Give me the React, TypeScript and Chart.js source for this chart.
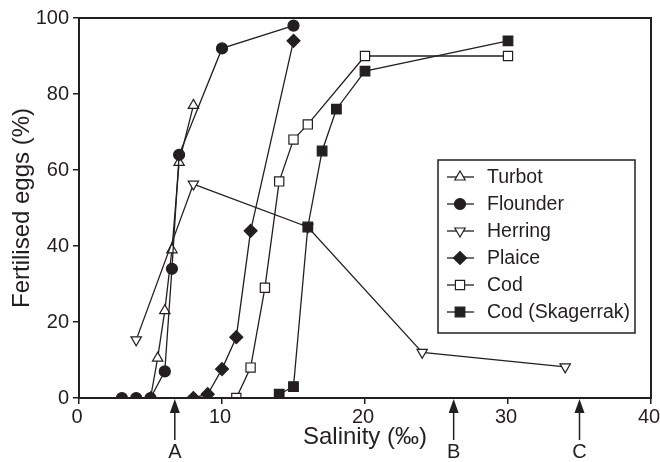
import React, { useEffect, useRef } from 'react';
import { Chart, registerables } from 'chart.js';

Chart.register(...registerables);

// ---- data ----
const seriesNames = ['Turbot', 'Flounder', 'Herring', 'Plaice', 'Cod', 'Cod (Skagerrak)'];
const turbotSalinity = [5, 5.5, 6, 6.5, 7, 8];
const turbotEggs = [0, 10.5, 23, 39, 62, 77];
const flounderSalinity = [3, 4, 5, 6, 6.5, 7, 10, 15];
const flounderEggs = [0, 0, 0, 7, 34, 64, 92, 98];
const herringSalinity = [4, 8, 16, 24, 34];
const herringEggs = [15.3, 56.3, 45, 12, 8.2];
const plaiceSalinity = [8, 9, 10, 11, 12, 15];
const plaiceEggs = [0, 1, 7.6, 16, 44, 94];
const codSalinity = [11, 12, 13, 14, 15, 16, 20, 30];
const codEggs = [0, 8, 29, 57, 68, 72, 90, 90];
const skagSalinity = [14, 15, 16, 17, 18, 20, 30];
const skagEggs = [1, 3, 45, 65, 76, 86, 94];
const arrowSalinity = [6.7, 26.2, 35];
const arrowLabels = ['A', 'B', 'C'];
const xTickValues = [0, 10, 20, 30, 40];
const yTickValues = [0, 20, 40, 60, 80, 100];
const xAxisTitle = 'Salinity (‰)';
const yAxisTitle = 'Fertilised eggs (%)';

// ---- styles ----
const INK = '#231f20';
const FONT = "'Liberation Sans', Arial, Helvetica, sans-serif";
const markerStyles = [
  { shape: 'triangle', filled: false, rotation: 0, radius: 6 },
  { shape: 'circle', filled: true, rotation: 0, radius: 5.5 },
  { shape: 'triangle', filled: false, rotation: 180, radius: 6 },
  { shape: 'rectRot', filled: true, rotation: 0, radius: 6.5 },
  { shape: 'rect', filled: false, rotation: 0, radius: 6.5 },
  { shape: 'rect', filled: true, rotation: 0, radius: 6.8 },
];

const pts = (xs: number[], ys: number[]) => xs.map((x, i) => ({ x, y: ys[i] }));
const seriesData = [
  pts(turbotSalinity, turbotEggs),
  pts(flounderSalinity, flounderEggs),
  pts(herringSalinity, herringEggs),
  pts(plaiceSalinity, plaiceEggs),
  pts(codSalinity, codEggs),
  pts(skagSalinity, skagEggs),
];

function drawMarker(ctx: CanvasRenderingContext2D, st: any, x: number, y: number) {
  const r = st.radius;
  ctx.beginPath();
  if (st.shape === 'circle') {
    ctx.arc(x, y, r, 0, Math.PI * 2);
  } else if (st.shape === 'triangle') {
    let a = (st.rotation * Math.PI) / 180;
    for (let k = 0; k < 3; k++) {
      const px = x + Math.sin(a) * r;
      const py = y - Math.cos(a) * r;
      if (k === 0) ctx.moveTo(px, py);
      else ctx.lineTo(px, py);
      a += (2 * Math.PI) / 3;
    }
    ctx.closePath();
  } else if (st.shape === 'rectRot') {
    ctx.moveTo(x - r, y);
    ctx.lineTo(x, y - r);
    ctx.lineTo(x + r, y);
    ctx.lineTo(x, y + r);
    ctx.closePath();
  } else {
    const s = Math.SQRT1_2 * r;
    ctx.rect(x - s, y - s, 2 * s, 2 * s);
  }
  ctx.fillStyle = st.filled ? INK : '#ffffff';
  ctx.fill();
  ctx.lineWidth = 1.2;
  ctx.strokeStyle = INK;
  ctx.stroke();
}

const framePlugin = {
  id: 'frame',
  afterDraw(chart: any) {
    const { ctx, chartArea } = chart;
    ctx.save();
    ctx.strokeStyle = INK;
    ctx.lineWidth = 2;
    ctx.strokeRect(chartArea.left, chartArea.top, chartArea.right - chartArea.left, chartArea.bottom - chartArea.top);
    ctx.restore();
  },
};

const arrowPlugin = {
  id: 'arrows',
  afterDraw(chart: any) {
    const { ctx, chartArea } = chart;
    const xs = chart.scales.x;
    const b = chartArea.bottom;
    ctx.save();
    ctx.fillStyle = INK;
    ctx.strokeStyle = INK;
    ctx.font = `20px ${FONT}`;
    ctx.textAlign = 'center';
    ctx.textBaseline = 'middle';
    arrowSalinity.forEach((v, i) => {
      const px = xs.getPixelForValue(v);
      ctx.beginPath();
      ctx.moveTo(px, b + 1);
      ctx.lineTo(px - 5, b + 15);
      ctx.lineTo(px + 5, b + 15);
      ctx.closePath();
      ctx.fill();
      ctx.beginPath();
      ctx.lineWidth = 1.5;
      ctx.moveTo(px, b + 12);
      ctx.lineTo(px, b + 42);
      ctx.stroke();
      ctx.fillText(arrowLabels[i], px, b + 54);
    });
    ctx.restore();
  },
};

const legendPlugin = {
  id: 'boxLegend',
  afterDraw(chart: any) {
    const { ctx, chartArea } = chart;
    const w = 197;
    const h = 173;
    const x0 = chartArea.right - 16 - w;
    const y0 = chartArea.top + 142;
    ctx.save();
    ctx.fillStyle = '#ffffff';
    ctx.fillRect(x0, y0, w, h);
    ctx.strokeStyle = INK;
    ctx.lineWidth = 1.5;
    ctx.strokeRect(x0, y0, w, h);
    ctx.font = `19.5px ${FONT}`;
    ctx.textBaseline = 'middle';
    ctx.textAlign = 'left';
    chart.data.datasets.forEach((ds: any, i: number) => {
      const y = y0 + 17 + i * 27;
      ctx.beginPath();
      ctx.strokeStyle = INK;
      ctx.lineWidth = 1.3;
      ctx.moveTo(x0 + 9, y);
      ctx.lineTo(x0 + 36, y);
      ctx.stroke();
      drawMarker(ctx, markerStyles[i], x0 + 22, y);
      ctx.fillStyle = INK;
      ctx.fillText(ds.label, x0 + 49, y + 1);
    });
    ctx.restore();
  },
};

export default function App() {
  const ref = useRef<HTMLCanvasElement | null>(null);
  useEffect(() => {
    if (!ref.current) return;
    const datasets = seriesNames.map((name, i) => {
      const st = markerStyles[i];
      return {
        label: name,
        data: seriesData[i],
        borderColor: INK,
        borderWidth: 1.3,
        backgroundColor: st.filled ? INK : '#ffffff',
        pointStyle: st.shape,
        pointRotation: st.rotation,
        pointRadius: st.radius,
        pointBorderWidth: 1.2,
        pointBorderColor: INK,
        pointBackgroundColor: st.filled ? INK : '#ffffff',
        showLine: true,
        tension: 0,
        order: seriesNames.length - i,
      };
    });
    const tickFont = { family: FONT, size: 20 };
    const titleFont = { family: FONT, size: 24 };
    const chart = new Chart(ref.current, {
      type: 'scatter',
      data: { datasets },
      options: {
        animation: false,
        responsive: false,
        maintainAspectRatio: false,
        layout: { padding: { top: 18, right: 9, left: 0, bottom: 0 } },
        plugins: { legend: { display: false }, tooltip: { enabled: false } },
        scales: {
          x: {
            type: 'linear',
            min: xTickValues[0],
            max: xTickValues[xTickValues.length - 1],
            afterBuildTicks: (s: any) => {
              s.ticks = xTickValues.map((value) => ({ value }));
            },
            afterFit: (s: any) => {
              s.height = 64;
              s.paddingLeft = 0;
              s.paddingRight = 0;
            },
            grid: { drawOnChartArea: false, tickLength: 6, color: INK, lineWidth: 1.5 },
            border: { display: false },
            ticks: { color: INK, font: tickFont, padding: 1, maxRotation: 0, labelOffset: -2 },
            title: { display: true, text: xAxisTitle, color: INK, font: titleFont, padding: { top: 0, bottom: 10 } },
          },
          y: {
            type: 'linear',
            min: yTickValues[0],
            max: yTickValues[yTickValues.length - 1],
            afterBuildTicks: (s: any) => {
              s.ticks = yTickValues.map((value) => ({ value }));
            },
            afterFit: (s: any) => {
              s.width = 79;
              s.paddingTop = 0;
              s.paddingBottom = 0;
            },
            grid: { drawOnChartArea: false, tickLength: 6, color: INK, lineWidth: 1.5 },
            border: { display: false },
            ticks: { color: INK, font: tickFont, padding: 4 },
            title: { display: true, text: yAxisTitle, color: INK, font: titleFont, padding: { top: 8, bottom: 0 } },
          },
        },
      },
      plugins: [framePlugin, arrowPlugin, legendPlugin],
    } as any);
    return () => chart.destroy();
  }, []);
  return (
    <div style={{ position: 'fixed', left: 0, top: 0, width: 660, height: 462, background: '#fff' }}>
      <canvas ref={ref} width={660} height={462} style={{ display: 'block', width: 660, height: 462 }} />
    </div>
  );
}
